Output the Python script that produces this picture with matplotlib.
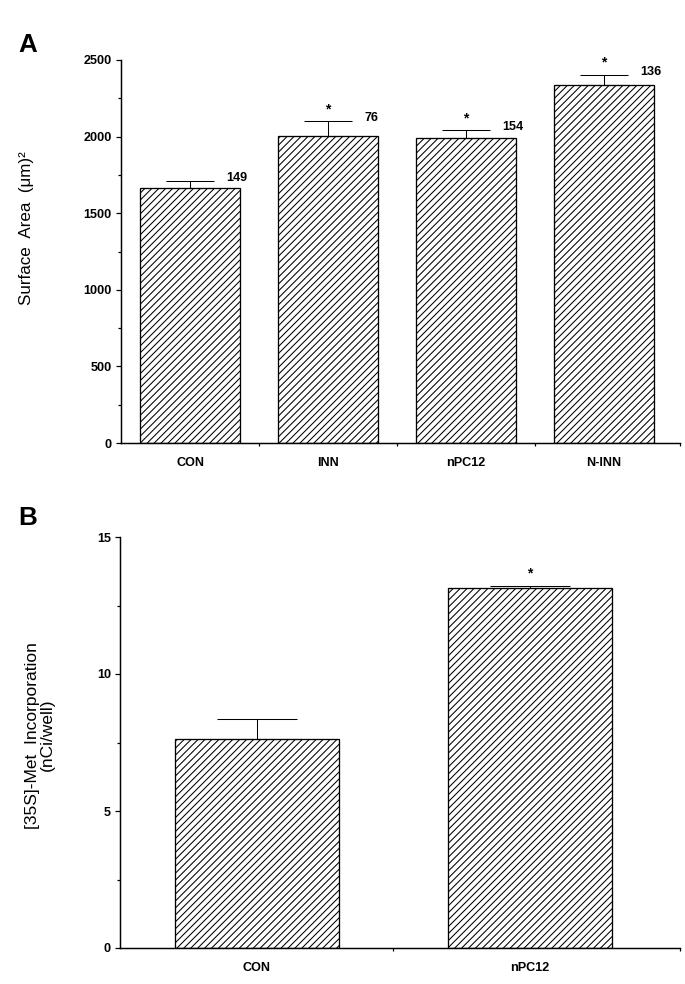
import matplotlib
matplotlib.use("Agg")
import matplotlib.pyplot as plt
from matplotlib.ticker import MultipleLocator, FixedLocator, NullFormatter

# panel A: cell surface area
groups_a = ["CON", "INN", "nPC12", "N-INN"]
area_mean = [1665, 2005, 1990, 2340]
area_sem = [42, 97, 50, 65]
n_cells = [149, 76, 154, 136]
signif_a = [False, True, True, True]

# panel B: [35S]-Met incorporation
groups_b = ["CON", "nPC12"]
met_mean = [7.63, 13.14]
met_sem = [0.73, 0.08]
signif_b = [False, True]

plt.rcParams["font.family"] = ["Liberation Sans", "DejaVu Sans"]
plt.rcParams["hatch.linewidth"] = 0.6
plt.rcParams["hatch.color"] = "black"

DPI = 125
fig = plt.figure(figsize=(685 / DPI, 984 / DPI), dpi=DPI)


def px(v):
    # pixels -> points at this dpi
    return v * 72.0 / DPI


def style_axes(ax, xs, xmax, labels):
    for side in ["top", "right"]:
        ax.spines[side].set_visible(False)
    for side in ["left", "bottom"]:
        ax.spines[side].set_linewidth(0.85)
    ax.tick_params(axis="y", which="major", direction="out", length=px(5), width=0.7,
                   pad=px(4), labelsize=7.3)
    ax.tick_params(axis="y", which="minor", direction="out", length=px(3), width=0.7)
    for lab in ax.get_yticklabels():
        lab.set_fontweight("bold")
    # ticks between categories, labels at category centres
    seps = [x + 0.5 for x in xs[:-1]] + [xmax]
    ax.xaxis.set_major_locator(FixedLocator(seps))
    ax.xaxis.set_major_formatter(NullFormatter())
    ax.xaxis.set_minor_locator(FixedLocator(xs))
    ax.set_xticklabels(labels, minor=True, fontsize=7.3, fontweight="bold")
    ax.tick_params(axis="x", which="major", direction="out", length=px(3), width=0.7)
    ax.tick_params(axis="x", which="minor", length=0, pad=px(14))


def draw_bars(ax, means, sems, width, capsize, signif, counts=None):
    xs = list(range(len(means)))
    ax.bar(xs, means, width=width, color="white", edgecolor="black", linewidth=0.75,
           hatch="//////", zorder=2)
    ax.errorbar(xs, means, yerr=[[0] * len(sems), sems], fmt="none", ecolor="black",
                elinewidth=0.6, capsize=px(capsize), capthick=0.6, zorder=3)
    for i in xs:
        top = means[i] + sems[i]
        if signif[i]:
            ax.annotate("*", (i, top), xytext=(0, px(5)), textcoords="offset points",
                        ha="center", va="bottom", fontsize=8, fontweight="bold")
        if counts is not None:
            ax.annotate(str(counts[i]), (i, top), xytext=(px(capsize + 12), px(3)),
                        textcoords="offset points", ha="left", va="center",
                        fontsize=7.3, fontweight="bold")
    return xs


# ---- panel A
ax1 = fig.add_axes([121 / 685, 1 - 443 / 984, 559 / 685, 383 / 984])
xs_a = draw_bars(ax1, area_mean, area_sem, 0.72, 24, signif_a, n_cells)
ax1.set_xlim(-0.5, 3.55)
ax1.set_ylim(0, 2500)
ax1.yaxis.set_major_locator(MultipleLocator(500))
ax1.yaxis.set_minor_locator(MultipleLocator(250))
style_axes(ax1, xs_a, 3.55, groups_a)
ax1.set_ylabel("Surface  Area  (\u03bcm)\u00b2", fontsize=9.8)
ax1.yaxis.set_label_coords(-0.156, 0.56)

# ---- panel B
ax2 = fig.add_axes([120 / 685, 1 - 948 / 984, 560 / 685, 411 / 984])
xs_b = draw_bars(ax2, met_mean, met_sem, 0.6, 40, signif_b)
ax2.set_xlim(-0.5, 1.55)
ax2.set_ylim(0, 15)
ax2.yaxis.set_major_locator(MultipleLocator(5))
ax2.yaxis.set_minor_locator(MultipleLocator(2.5))
style_axes(ax2, xs_b, 1.55, groups_b)
ax2.set_ylabel("[35S]-Met  Incorporation\n(nCi/well)", fontsize=10, linespacing=1.0)
ax2.yaxis.set_label_coords(-0.116, 0.518)

fig.text(18 / 685, 1 - 52 / 984, "A", fontsize=15, fontweight="bold", va="baseline")
fig.text(18 / 685, 1 - 525 / 984, "B", fontsize=15, fontweight="bold", va="baseline")

fig.savefig("out.png", dpi=DPI)
